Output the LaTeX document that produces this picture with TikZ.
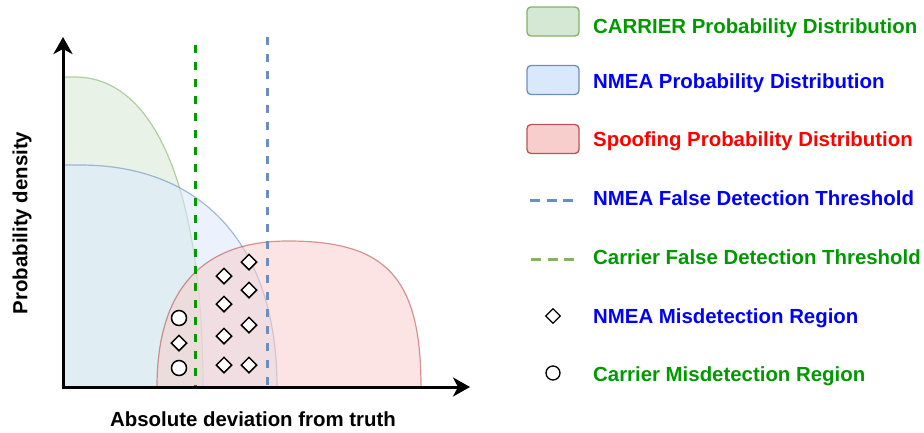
\documentclass[tikz,border=0pt]{standalone}
\usepackage{fontspec}
\setmainfont{Liberation Sans}
\usetikzlibrary{arrows.meta,shapes.geometric,positioning}
\definecolor{cargreen}{HTML}{009900}
\definecolor{nmeablue}{HTML}{0000FF}
\definecolor{spoofred}{HTML}{FF0000}
\definecolor{gfill}{HTML}{D5E8D4}
\definecolor{gline}{HTML}{82B366}
\definecolor{bfill}{HTML}{DAE8FC}
\definecolor{bline}{HTML}{6C8EBF}
\definecolor{rfill}{HTML}{F8CECC}
\definecolor{rline}{HTML}{B85450}

\begin{document}
\begin{tikzpicture}[x=1pt,y=-1pt,
 every node/.style={font=\fontsize{20.4}{24}\selectfont\bfseries},
 dist/.style={fill opacity=0.55,draw opacity=0.6,line width=1.2pt},
 axis/.style={line width=3pt,-{Stealth[length=17pt,width=19pt,inset=5pt]}},
 thr/.style={line width=3pt,dash pattern=on 8pt off 9pt},
 legdash/.style={line width=3pt,dash pattern=on 10pt off 6.5pt},
 dmark/.style={diamond,draw,fill=white,line width=1.5pt,minimum size=16pt,inner sep=0pt},
 cmark/.style={circle,draw,fill=white,line width=1.5pt,minimum size=15pt,inner sep=0pt},
 legbox/.style={draw,line width=1.3pt,rounded corners=4pt,minimum width=52pt,minimum height=29pt},
 legtext/.style={anchor=base west,inner sep=0pt}]
 \useasboundingbox (0,0) rectangle (924,432);

 % distributions
 \path[dist,fill=gfill,draw=gline] (63,387) -- (63,77) -- (75,77)
  .. controls (156,77) and (203,192) .. (203,387);
 \path[dist,fill=bfill,draw=bline] (63,387) -- (63,165) -- (80,165)
  .. controls (204,165) and (277,247) .. (277,387);
 \path[dist,fill=rfill,draw=rline] (157,387)
  .. controls (157,300) and (193,241) .. (288,241)
  .. controls (386,241) and (421,277) .. (421,387);

 % thresholds
 \coordinate (ct) at (195,45);  \coordinate (cb) at (195,388);
 \coordinate (nt) at (267,37);  \coordinate (nb) at (267,389);
 \draw[thr,cargreen] (ct) -- (cb);
 \draw[thr,bline] (nt) -- (nb);

 % axes
 \coordinate (o) at (63,387);
 \coordinate (ytip) at (63,37);
 \coordinate (xtip) at (470,387);
 \draw[axis] (o) -- (ytip);
 \draw[axis] ([xshift=-1.5pt]o) -- (xtip);
 \node[rotate=90] (ylab) at (22,223) {Probability density};
 \node[anchor=base] (xlab) at (253,426) {Absolute deviation from truth};

 % misdetection markers
 \node[cmark] (c1) at (179,318) {};
 \node[dmark] (d0) at (179,343) {};
 \node[cmark] (c2) at (179,368) {};
 \node[dmark] (d1) at (224,276) {};
 \node[dmark] (d2) at (224,304) {};
 \node[dmark] (d3) at (224,336) {};
 \node[dmark] (d4) at (224,365) {};
 \node[dmark] (d5) at (249,262) {};
 \node[dmark] (d6) at (249,290) {};
 \node[dmark] (d7) at (249,325) {};
 \node[dmark] (d8) at (249,365) {};

 % legend
 \node[legbox,fill=gfill,draw=gline] (lcar) at (553,21.5) {};
 \node[legbox,fill=bfill,draw=bline] (lnmea) at (553,80) {};
 \node[legbox,fill=rfill,draw=rline] (lspoof) at (553,139) {};
 \coordinate (lna) at (530,200); \coordinate (lnb) at (574,200);
 \coordinate (lca) at (531,259); \coordinate (lcb) at (575,259);
 \draw[legdash,bline] (lna) -- (lnb);
 \draw[legdash,gline] (lca) -- (lcb);
 \node[dmark,minimum size=15pt,line width=1.3pt] (ldia) at (553,316) {};
 \node[cmark,minimum size=14pt,line width=1.3pt] (lcirc) at (553,373) {};

 \node[legtext,cargreen] (t1) at (593,33) {CARRIER Probability Distribution};
 \node[legtext,nmeablue] (t2) at (593,88) {NMEA Probability Distribution};
 \node[legtext,spoofred] (t3) at (593,146) {Spoofing Probability Distribution};
 \node[legtext,nmeablue] (t4) at (593,205) {NMEA False Detection Threshold};
 \node[legtext,cargreen] (t5) at (593,264) {Carrier False Detection Threshold};
 \node[legtext,nmeablue] (t6) at (593,323) {NMEA Misdetection Region};
 \node[legtext,cargreen] (t7) at (593,381) {Carrier Misdetection Region};
\end{tikzpicture}
\end{document}
